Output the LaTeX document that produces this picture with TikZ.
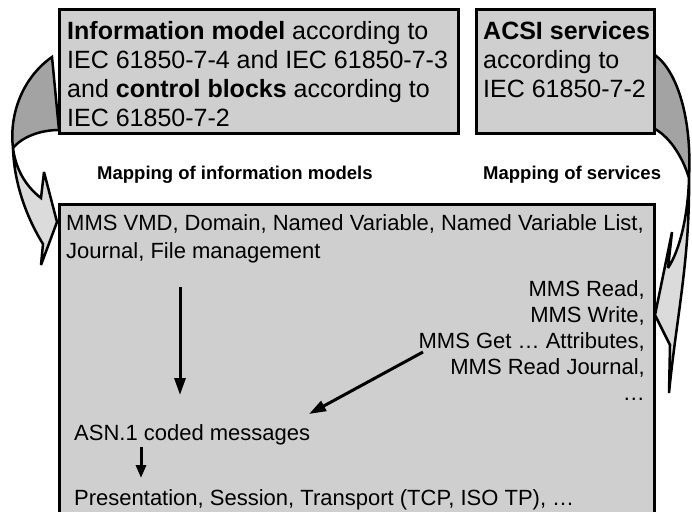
\documentclass[tikz,border=0pt]{standalone}
\usepackage{fontspec}
\setmainfont{Liberation Sans}
\usetikzlibrary{arrows.meta}
\definecolor{boxgray}{gray}{0.81}
\definecolor{darkband}{gray}{0.64}
\definecolor{lightband}{gray}{0.86}
\begin{document}
\begin{tikzpicture}[x=1pt,y=-1pt,
  box/.style={draw=black,line width=3pt,fill=boxgray,inner sep=0pt,anchor=north west},
  band/.style={draw=black,line width=2.5pt,line join=miter,miter limit=4},
  bigtxt/.style={inner sep=0pt,font=\fontsize{25}{29}\selectfont,align=left},
  maptxt/.style={inner sep=0pt,font=\fontsize{18.5}{22}\selectfont\bfseries},
  smalltxt/.style={inner sep=0pt,font=\fontsize{22}{28}\selectfont},
  flow/.style={line width=3pt,-{Triangle[length=17pt,width=11pt]}},
  shortflow/.style={line width=3pt,-{Triangle[length=13pt,width=10pt]}}
]
\useasboundingbox (0,0) rectangle (692,511);
\clip (0,0) rectangle (692,511);
\fill[white] (0,0) rectangle (692,511);

% left curved arrow
\filldraw[band,fill=darkband] (52,57) .. controls (22,78) and (9,115) .. (13,148)
   .. controls (22,137) and (40,130) .. (59,130) -- cycle;
\filldraw[band,fill=lightband] (13,148) .. controls (16,172) and (28,188) .. (41,198)
   -- (44,172) -- (57,222) -- (41,265) -- (43,244)
   .. controls (28,220) and (14,185) .. (13,148) -- cycle;

% right curved arrow
\filldraw[band,fill=darkband] (655,55) .. controls (678,72) and (692,120) .. (689,178)
   .. controls (682,155) and (668,135) .. (653,128) -- cycle;
\filldraw[band,fill=lightband] (689,178) .. controls (688,215) and (680,250) .. (668,268)
   -- (672,232) -- (655,315) -- (670,345) -- (669,393)
   .. controls (676,320) and (690,260) .. (689,178) -- cycle;

% boxes
\node[box,minimum width=399pt,minimum height=124pt] (b1) at (58,8) {};
\node[box,minimum width=178pt,minimum height=124pt] (b2) at (475,8) {};
\node[box,minimum width=595pt,minimum height=330pt] (b3) at (58,203) {};

% texts
\node[bigtxt,anchor=north west] (t1) at (67,21)
  {\textbf{Information model} according to\\IEC 61850-7-4 and IEC 61850-7-3\\and \textbf{control blocks} according to\\IEC 61850-7-2};
\node[bigtxt,anchor=north west] (t2) at (483,21)
  {\textbf{ACSI services}\\according to\\IEC 61850-7-2};
\node[maptxt,anchor=base west] (m1) at (97,179) {Mapping of information models};
\node[maptxt,anchor=base west] (m2) at (483,179) {Mapping of services};
\node[smalltxt,anchor=north west,align=left] (mms) at (66,214)
  {MMS VMD, Domain, Named Variable, Named Variable List,\\Journal, File management};
\node[smalltxt,anchor=north east,align=right,font=\fontsize{22}{26}\selectfont] (svc) at (645,280)
  {MMS Read,\\MMS Write,\\MMS Get \dots\ Attributes,\\MMS Read Journal,\\\dots};
\node[smalltxt,anchor=base west] (asn) at (74,440) {ASN.1 coded messages};
\node[smalltxt,anchor=base west] (pst) at (74,505) {Presentation, Session, Transport (TCP, ISO TP), \dots};

% connectors
\coordinate (v1s) at (180,287);
\coordinate (v1e) at (180,395);
\coordinate (d1s) at (423,352);
\coordinate (d1e) at (309,414);
\coordinate (s1s) at (141,447);
\coordinate (s1e) at (141,478);
\draw[flow] (v1s) -- (v1e);
\draw[flow] (d1s) -- (d1e);
\draw[shortflow] (s1s) -- (s1e);
\end{tikzpicture}
\end{document}
